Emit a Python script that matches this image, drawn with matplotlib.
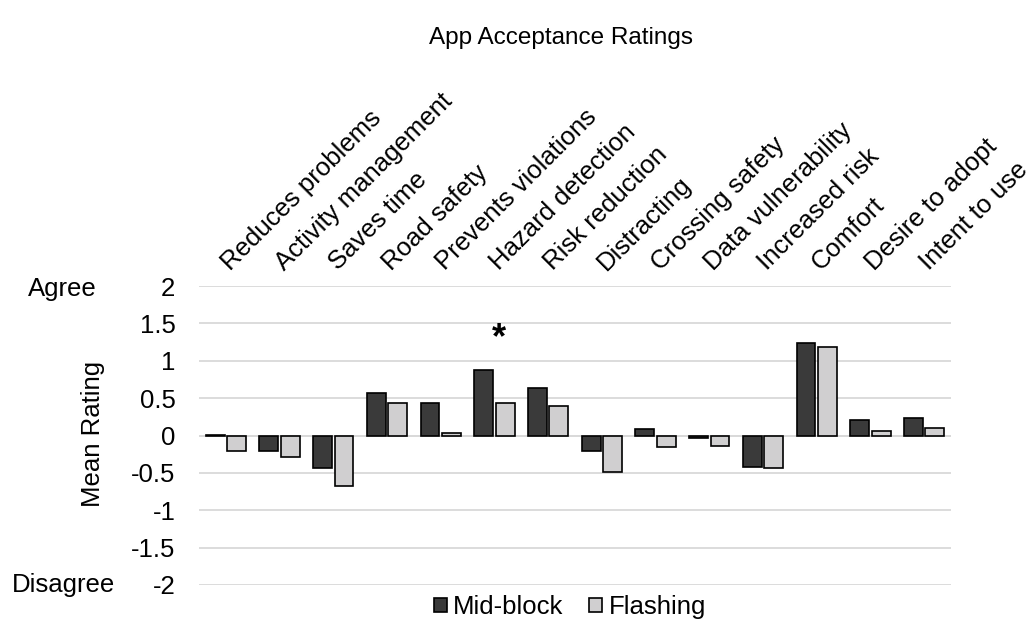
import numpy as np
import matplotlib
matplotlib.use('Agg')
import matplotlib.pyplot as plt
import matplotlib.transforms as mtransforms

matplotlib.rcParams['font.family'] = ['Liberation Sans', 'DejaVu Sans']
matplotlib.rcParams['font.size'] = 18.5

categories = ['Reduces problems', 'Activity management', 'Saves time', 'Road safety',
              'Prevents violations', 'Hazard detection', 'Risk reduction', 'Distracting',
              'Crossing safety', 'Data vulnerability', 'Increased risk', 'Comfort',
              'Desire to adopt', 'Intent to use']
mid_block = [0.01, -0.21, -0.44, 0.57, 0.44, 0.88, 0.63, -0.21, 0.09, -0.04, -0.42, 1.24, 0.21, 0.24]
flashing = [-0.21, -0.29, -0.67, 0.43, 0.04, 0.44, 0.39, -0.49, -0.16, -0.14, -0.44, 1.18, 0.06, 0.10]
y_ticks = [2, 1.5, 1, 0.5, 0, -0.5, -1, -1.5, -2]
y_tick_labels = ['2', '1.5', '1', '0.5', '0', '-0.5', '-1', '-1.5', '-2']

fig = plt.figure(figsize=(10.36, 6.3), dpi=100)
ax = fig.add_axes([199 / 1036, 45 / 630, 752 / 1036, 299 / 630])

x = np.arange(len(categories))
width = 0.35
ax.bar(x - 0.2, mid_block, width, color='#3a3a3a', edgecolor='black',
       linewidth=1.2, label='Mid-block', zorder=3)
ax.bar(x + 0.2, flashing, width, color='#d0cfd0', edgecolor='black',
       linewidth=1.2, label='Flashing', zorder=3)

ax.set_xlim(-0.5, len(categories) - 0.5)
ax.set_ylim(-2, 2)
ax.set_yticks(y_ticks)
ax.set_yticklabels(y_tick_labels)
ax.yaxis.grid(True, color='#d9d9d9', linewidth=1.3, zorder=0)
ax.axhline(0, color='#d9d9d9', linewidth=1.3, zorder=1)

ax.xaxis.tick_top()
ax.set_xticks(x)
ax.set_xticklabels(categories, rotation=45, ha='left', rotation_mode='anchor')
ax.tick_params(axis='x', length=0, pad=8)
ax.tick_params(axis='y', length=0, pad=17)
# nudge the slanted labels a little to the right
shift = mtransforms.ScaledTranslation(8 / 100, 0, fig.dpi_scale_trans)
for lbl in ax.get_xticklabels():
    lbl.set_transform(lbl.get_transform() + shift)
for spine in ax.spines.values():
    spine.set_visible(False)

# significance marker
ax.text(5.08, 1.06, '*', ha='center', va='bottom', fontsize=26, fontweight='bold')

fig.text(561 / 1036, 1 - 38 / 630, 'App Acceptance Ratings', ha='center', va='center', fontsize=17.5)
fig.text(62 / 1036, 1 - 289 / 630, 'Agree', ha='center', va='center')
fig.text(63 / 1036, 1 - 585 / 630, 'Disagree', ha='center', va='center')
fig.text(93 / 1036, 1 - 434 / 630, 'Mean Rating', ha='center', va='center', rotation=90)

fig.legend(loc='center', bbox_to_anchor=(570 / 1036, 1 - 607 / 630), ncol=2, frameon=False,
           handlelength=0.5, handleheight=0.5, handletextpad=0.25, columnspacing=1.0)

fig.savefig('out.png', dpi=100)
